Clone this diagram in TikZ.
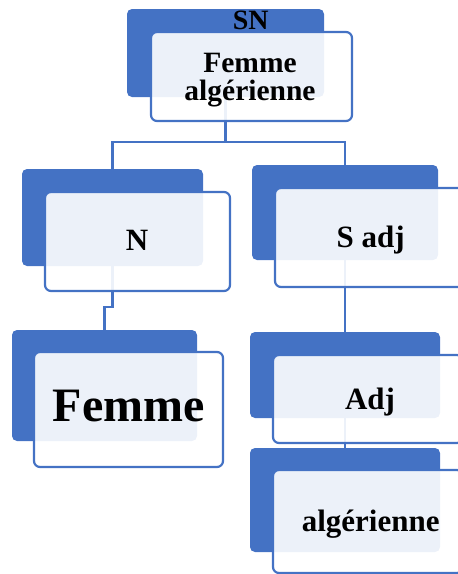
\documentclass[tikz,border=0pt]{standalone}
\usepackage{fontspec}
\setmainfont{Liberation Serif}
\definecolor{sablue}{HTML}{4472C4}
\begin{document}
\begin{tikzpicture}[x=1pt,y=-1pt,
  bluebox/.style={rectangle,rounded corners=5pt,fill=sablue,draw=none,inner sep=0pt,outer sep=0pt},
  whitebox/.style={rectangle,rounded corners=6pt,draw=sablue,line width=2.2pt,fill=white,fill opacity=0.9,inner sep=0pt},
  conn/.style={draw=sablue,line width=2.2pt},
  lbl/.style={font=\fontsize{31}{28}\selectfont\bfseries,inner sep=0pt,anchor=base,align=center},
  biglbl/.style={font=\fontsize{48}{48}\selectfont\bfseries,inner sep=0pt,anchor=base}]
\useasboundingbox (0,0) rectangle (458,574);
\clip (0,0) rectangle (458,574);
% blue back boxes
\node[bluebox,minimum width=197pt,minimum height=88pt] (topblue) at (225.5,53) {};
\node[bluebox,minimum width=181pt,minimum height=97pt] (nblue) at (112.5,217.5) {};
\node[bluebox,minimum width=185pt,minimum height=111pt] (fblue) at (104.5,385.5) {};
\node[bluebox,minimum width=186pt,minimum height=95pt] (sblue) at (345,212.5) {};
\node[bluebox,minimum width=190pt,minimum height=86pt] (ablue) at (345,375) {};
\node[bluebox,minimum width=190pt,minimum height=104pt] (gblue) at (345,500) {};
% connectors
\draw[conn] (topblue.south) -- ++(0,45) -| (nblue.north);
\draw[conn] (topblue.south) -- ++(0,45) -| (sblue.north);
\draw[conn] (nblue.south) -- ++(0,41) -| (fblue.north);
\draw[conn] (sblue.south) -- (ablue.north);
\draw[conn] (ablue.south) -- (gblue.north);
% front boxes
\node[whitebox,minimum width=201pt,minimum height=89pt] (topwhite) at (251.5,76.5) {};
\node[whitebox,minimum width=185pt,minimum height=99pt] (nwhite) at (137.5,241.5) {};
\node[whitebox,minimum width=189pt,minimum height=115pt] (fwhite) at (128.5,409.5) {};
\node[whitebox,minimum width=190pt,minimum height=99pt] (swhite) at (370,237.5) {};
\node[whitebox,minimum width=190pt,minimum height=88pt] (awhite) at (368,399) {};
\node[whitebox,minimum width=190pt,minimum height=103pt] (gwhite) at (368,521.5) {};
% texts
\node[lbl,font=\fontsize{28}{28}\selectfont\bfseries] (tsn) at (250.7,29) {SN};
\node[lbl,font=\fontsize{29.5}{28}\selectfont\bfseries] (ttop) at (250,100) {Femme\\algérienne};
\node[lbl] (tn) at (137,250.7) {N};
\node[lbl] (ts) at (370.7,247) {S adj};
\node[biglbl] (tf) at (128.7,421.7) {Femme};
\node[lbl] (ta) at (370,409) {Adj};
\node[lbl] (tg) at (370.7,531.7) {algérienne};
\end{tikzpicture}
\end{document}
